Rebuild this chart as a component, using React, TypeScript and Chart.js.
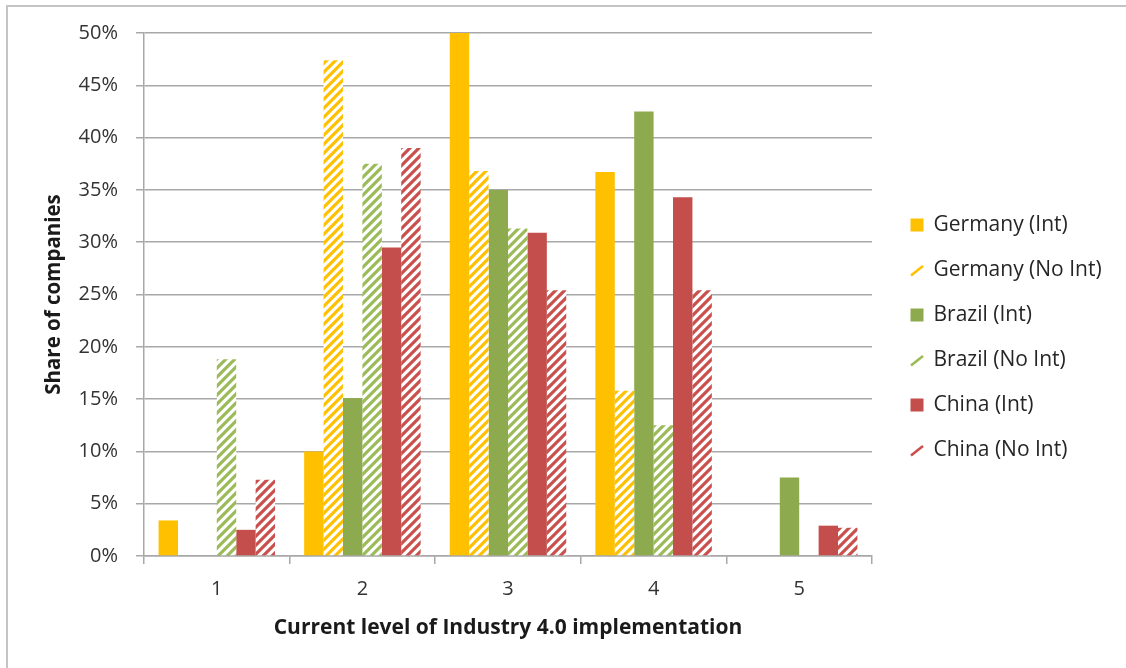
import React, { useEffect, useRef } from "react";
import { Chart, registerables } from "chart.js";

Chart.register(...registerables);

const categories = ["1", "2", "3", "4", "5"];
const germanyInt = [3.4, 10.0, 50.0, 36.7, 0];
const germanyNoInt = [0, 47.4, 36.8, 15.8, 0];
const brazilInt = [0, 15.1, 35.0, 42.5, 7.5];
const brazilNoInt = [18.8, 37.5, 31.3, 12.5, 0];
const chinaInt = [2.5, 29.5, 30.9, 34.3, 2.9];
const chinaNoInt = [7.3, 39.0, 25.4, 25.4, 2.7];

const seriesLabels = [
  "Germany (Int)",
  "Germany (No Int)",
  "Brazil (Int)",
  "Brazil (No Int)",
  "China (Int)",
  "China (No Int)",
];
const seriesValues = [germanyInt, germanyNoInt, brazilInt, brazilNoInt, chinaInt, chinaNoInt];
const seriesColors = ["#FFC000", "#FFC000", "#8DAA4E", "#9BBB59", "#C44E4B", "#C9504D"];
const seriesHatched = [false, true, false, true, false, true];

const yMin = 0;
const yMax = 50;
const yStep = 5;

const xTitle = "Current level of Industry 4.0 implementation";
const yTitle = "Share of companies";

const FONT = '"Open Sans", "DejaVu Sans", sans-serif';
const LEGEND_SIZE = 21;

function makeHatch(color: string): CanvasPattern | string {
  const c = document.createElement("canvas");
  const s = 9;
  c.width = s;
  c.height = s;
  const g = c.getContext("2d");
  if (!g) return color;
  g.fillStyle = "#ffffff";
  g.fillRect(0, 0, s, s);
  g.strokeStyle = color;
  g.lineWidth = 3.2;
  g.lineCap = "square";
  g.beginPath();
  g.moveTo(-2, s + 2);
  g.lineTo(s + 2, -2);
  g.moveTo(-2, 2);
  g.lineTo(2, -2);
  g.moveTo(s - 2, s + 2);
  g.lineTo(s + 2, s - 2);
  g.stroke();
  const p = g.createPattern(c, "repeat");
  return p || color;
}

function makeMarker(color: string, hatched: boolean): HTMLCanvasElement {
  const c = document.createElement("canvas");
  c.width = 14;
  c.height = 14;
  const g = c.getContext("2d")!;
  if (hatched) {
    g.strokeStyle = color;
    g.lineWidth = 2.6;
    g.lineCap = "butt";
    g.beginPath();
    g.moveTo(1, 12.5);
    g.lineTo(13, 3);
    g.stroke();
  } else {
    g.fillStyle = color;
    g.fillRect(0.5, 0.5, 13, 13);
  }
  return c;
}

const borderPlugin = {
  id: "outerBorder",
  beforeDraw(chart: any) {
    const ctx = chart.ctx;
    ctx.save();
    ctx.strokeStyle = "#c4c4c4";
    ctx.lineWidth = 2;
    ctx.beginPath();
    ctx.moveTo(7, chart.height);
    ctx.lineTo(7, 6);
    ctx.lineTo(chart.width, 6);
    ctx.stroke();
    ctx.restore();
  },
};

export default function App() {
  const ref = useRef<HTMLCanvasElement | null>(null);

  useEffect(() => {
    let chart: Chart | null = null;
    let cancelled = false;

    const build = () => {
      if (cancelled || !ref.current) return;
      const meas = document.createElement("canvas").getContext("2d")!;
      meas.font = `${LEGEND_SIZE}px ${FONT}`;
      const tw = Math.max(...seriesLabels.map((l) => meas.measureText(l).width));
      const legendPad = 24;
      const markerW = 12;
      const legendLeft = 887;
      const legendWidth = legendPad + markerW + LEGEND_SIZE / 2 + tw + 10;
      const padRight = Math.max(0, 1126 - legendLeft - legendWidth);

      const markers = seriesColors.map((c, i) => makeMarker(c, seriesHatched[i]));

      chart = new Chart(ref.current, {
        type: "bar",
        data: {
          labels: categories,
          datasets: seriesValues.map((vals, i) => ({
            label: seriesLabels[i],
            data: vals,
            backgroundColor: seriesHatched[i] ? makeHatch(seriesColors[i]) : seriesColors[i],
            borderWidth: 0,
            categoryPercentage: 0.8,
            barPercentage: 1.0,
          })),
        },
        options: {
          animation: false,
          responsive: true,
          maintainAspectRatio: false,
          layout: { padding: { left: 20, top: 33, right: padRight, bottom: 26 } },
          plugins: {
            tooltip: { enabled: false },
            legend: {
              position: "right",
              maxWidth: 400,
              labels: {
                usePointStyle: true,
                pointStyleWidth: markerW,
                padding: legendPad,
                color: "#262626",
                font: { family: FONT, size: LEGEND_SIZE },
                generateLabels: (ch: any) => {
                  const items = (Chart.defaults as any).plugins.legend.labels.generateLabels(ch);
                  return items.map((it: any, i: number) => ({
                    ...it,
                    pointStyle: markers[i],
                    lineWidth: 0,
                  }));
                },
              },
            },
          },
          scales: {
            x: {
              grid: {
                display: true,
                offset: true,
                drawOnChartArea: false,
                drawTicks: true,
                tickLength: 8,
                color: "#a8a8a8",
                lineWidth: 1.5,
              },
              border: { display: true, color: "#a8a8a8", width: 1.5 },
              ticks: {
                color: "#333333",
                padding: 13,
                font: { family: FONT, size: 20 },
              },
              title: {
                display: true,
                text: xTitle,
                color: "#1a1a1a",
                font: { family: FONT, size: 21, weight: "bold" },
                padding: { top: 4, bottom: 1.6 },
              },
              afterFit: (s: any) => {
                s.height = 86;
              },
            },
            y: {
              min: yMin,
              max: yMax,
              grid: {
                color: "#a8a8a8",
                lineWidth: 1.5,
                tickLength: 8,
              },
              border: { display: true, color: "#a8a8a8", width: 1.5 },
              ticks: {
                stepSize: yStep,
                color: "#333333",
                padding: 18,
                font: { family: FONT, size: 20 },
                callback: (v: any) => `${v}%`,
              },
              title: {
                display: true,
                text: yTitle,
                color: "#1a1a1a",
                font: { family: FONT, size: 20.5, weight: "bold" },
                padding: { top: 22, bottom: 0 },
              },
              afterFit: (s: any) => {
                s.width = 124;
              },
            },
            gap: {
              type: "linear",
              position: "right",
              display: true,
              grid: { display: false },
              ticks: { display: false },
              border: { display: false },
              afterFit: (s: any) => {
                s.width = 15;
              },
            },
          },
        },
        plugins: [borderPlugin],
      });
    };

    const fonts: any = (document as any).fonts;
    if (fonts && fonts.load) {
      Promise.all([
        fonts.load(`${LEGEND_SIZE}px "Open Sans"`),
        fonts.load(`bold 21px "Open Sans"`),
      ])
        .catch(() => null)
        .then(() => build());
    } else {
      build();
    }

    return () => {
      cancelled = true;
      if (chart) chart.destroy();
    };
  }, []);

  return (
    <div style={{ position: "absolute", left: 0, top: 0, width: 1126, height: 668, background: "#ffffff" }}>
      <canvas ref={ref} />
    </div>
  );
}
